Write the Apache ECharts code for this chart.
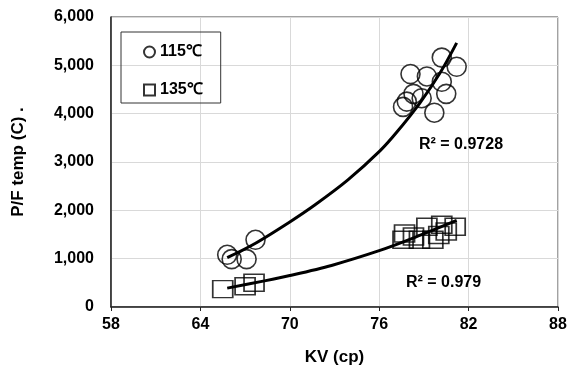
<!DOCTYPE html>
<html>
<head>
<meta charset="utf-8">
<script src="https://cdn.jsdelivr.net/npm/echarts@6/dist/echarts.min.js"></script>
<style>
  html, body { margin: 0; padding: 0; background: #fff; }
  #chartmain { width: 575px; height: 374px; }
</style>
</head>
<body>
<div id="chartmain"></div>
<script>
// 115 C points
var kv115 = [80.2, 81.2, 78.1, 79.2, 80.2, 78.3, 80.5, 78.85, 77.85, 77.6, 79.7, 65.8, 66.1, 67.1, 67.7];
var pf115 = [5160, 4970, 4820, 4770, 4660, 4410, 4410, 4320, 4250, 4140, 4020, 1080, 990, 990, 1390];
// 135 C points
var kv135 = [65.5, 67.0, 67.6, 77.7, 77.6, 78.3, 79.2, 80.2, 81.1, 80.0, 78.7, 79.6, 80.5];
var pf135 = [370, 430, 500, 1520, 1390, 1460, 1660, 1700, 1660, 1490, 1390, 1390, 1560];
// trend lines
var trend115X = [65.8, 67.7, 70, 71.7, 73.9, 76.05, 77.2, 78.75, 80.1, 81.2];
var trend115Y = [1020, 1320, 1760, 2115, 2630, 3230, 3625, 4230, 4850, 5465];
var trend135X = [65.8, 68.3, 70, 72.8, 76.05, 78.4, 81.2];
var trend135Y = [390, 540, 650, 860, 1170, 1440, 1790];
var xTicks = [58, 64, 70, 76, 82, 88];
var r2Labels = ['R\u00b2 = 0.9728', 'R\u00b2 = 0.979'];

function pairs(xs, ys) {
    var out = [];
    for (var i = 0; i < xs.length; i++) out.push([xs[i], ys[i]]);
    return out;
}

var font = 'Liberation Sans, Arial, sans-serif';
var chart = echarts.init(document.getElementById('chartmain'), null, { renderer: 'canvas' });

chart.setOption({
    animation: false,
    grid: { left: 111, right: 17, top: 17, bottom: 67, show: true, borderColor: '#444', borderWidth: 1 },
    legend: {
        left: 121, top: 32, orient: 'vertical',
        padding: [12, 18, 5, 22], itemGap: 22,
        itemWidth: 11, itemHeight: 11,
        borderColor: '#333', borderWidth: 1,
        data: ['115\u2103', '135\u2103'],
        textStyle: { fontFamily: font, fontWeight: 'bold', fontSize: 16, color: '#000' }
    },
    xAxis: {
        type: 'value', min: 58, max: 88, interval: 6,
        name: 'KV (cp)', nameLocation: 'middle', nameGap: 42,
        nameTextStyle: { fontFamily: font, fontWeight: 'bold', fontSize: 17, color: '#000' },
        axisLine: { lineStyle: { color: '#222', width: 1.5 } },
        axisTick: { show: true, length: 4, lineStyle: { color: '#222' } },
        axisLabel: { fontFamily: font, fontWeight: 'bold', fontSize: 16, color: '#000', margin: 10,
            formatter: function (v) { return xTicks.indexOf(v) >= 0 ? String(v) : ''; } },
        splitLine: { show: true, lineStyle: { color: '#d9d9d9' } }
    },
    yAxis: {
        type: 'value', min: 0, max: 6000, interval: 1000,
        name: 'P/F temp (C) .', nameLocation: 'middle', nameGap: 84,
        nameTextStyle: { fontFamily: font, fontWeight: 'bold', fontSize: 17, color: '#000' },
        axisLine: { show: true, lineStyle: { color: '#222', width: 1.5 } },
        axisTick: { show: false },
        axisLabel: { fontFamily: font, fontWeight: 'bold', fontSize: 16, color: '#000', margin: 17,
            formatter: function (v) { return v.toLocaleString('en-US'); } },
        splitLine: { show: true, lineStyle: { color: '#d9d9d9' } }
    },
    graphic: [
        { type: 'text', left: 419, top: 137, z: 10, style: { text: r2Labels[0], fontFamily: font, fontWeight: 'bold', fontSize: 16, fill: '#000' } },
        { type: 'text', left: 406, top: 275, z: 10, style: { text: r2Labels[1], fontFamily: font, fontWeight: 'bold', fontSize: 16, fill: '#000' } }
    ],
    series: [
        {
            name: '115\u2103', type: 'scatter', symbol: 'circle', symbolSize: 19,
            data: pairs(kv115, pf115),
            itemStyle: { color: 'rgba(255,255,255,0)', borderColor: '#000', borderWidth: 1.6 }
        },
        {
            name: '135\u2103', type: 'scatter', symbol: 'rect', symbolSize: [20, 17],
            data: pairs(kv135, pf135),
            itemStyle: { color: 'rgba(255,255,255,0)', borderColor: '#000', borderWidth: 1.6 }
        },
        {
            name: 'trend115', type: 'line', smooth: 0.3, showSymbol: false, z: 5,
            data: pairs(trend115X, trend115Y),
            lineStyle: { color: '#000', width: 3 }
        },
        {
            name: 'trend135', type: 'line', smooth: 0.3, showSymbol: false, z: 5,
            data: pairs(trend135X, trend135Y),
            lineStyle: { color: '#000', width: 3 }
        }
    ]
});
</script>
</body>
</html>
